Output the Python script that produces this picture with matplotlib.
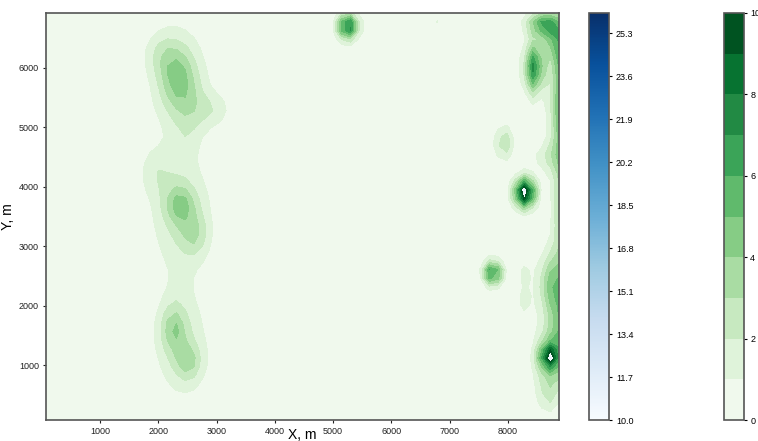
import numpy as np
import matplotlib
matplotlib.use("Agg")
import matplotlib.pyplot as plt
from matplotlib import cm, colors

plt.rcParams['font.family'] = ['Liberation Sans', 'DejaVu Sans']

# grid of the survey area, m
x_min, x_max, nx = 75, 8875, 60
y_min, y_max, ny = 75, 6925, 47

# anomalies: centre x, centre y, peak value, spread x, spread y
blob_x = [2330, 2350, 2050, 2600, 3000, 2470,
          2370, 2630, 2400, 1950, 2390,
          2260, 2520, 2400, 2270,
          5250, 6750, 8600, 8780, 8450,
          8875, 8875, 8700, 8875, 8780, 8875,
          8700, 8760, 8680,
          7930, 8290, 7740, 8280, 8280]
blob_y = [5850, 5800, 6250, 5300, 5300, 4750,
          3700, 3200, 3550, 4250, 2350,
          1620, 1050, 1350, 1600,
          6700, 6820, 6750, 6500, 6000,
          6300, 5300, 4500, 3600, 2350, 1700,
          1150, 1100, 450,
          4740, 3900, 2550, 2550, 2100]
blob_val = [2.2, 2.4, 1.3, 1.4, 1.3, 0.6,
            2.5, 1.8, 2.3, 1.3, 0.4,
            2.4, 2.2, 1.9, 0.5,
            8.5, 1.3, 5.5, 3.0, 7.5,
            3.0, 5.0, 1.8, 3.0, 4.6, 3.0,
            6.6, 4.5, 1.5,
            3.2, 11.5, 7.5, 1.3, 1.5]
blob_sx = [200, 330, 200, 220, 180, 150,
           170, 160, 350, 200, 100,
           150, 150, 330, 60,
           120, 90, 190, 150, 110,
           100, 100, 200, 90, 170, 100,
           100, 200, 120,
           100, 120, 110, 90, 90]
blob_sy = [330, 600, 250, 300, 200, 250,
           220, 250, 700, 300, 150,
           300, 220, 650, 80,
           150, 90, 140, 250, 300,
           400, 600, 180, 700, 380, 400,
           130, 380, 200,
           200, 170, 140, 130, 200]

green_levels = [0, 1, 2, 3, 4, 5, 6, 7, 8, 9, 10]
blue_ticks = [10.0, 11.7, 13.4, 15.1, 16.8, 18.5, 20.2, 21.9, 23.6, 25.3]
blue_max = 26.1

x = np.linspace(x_min, x_max, nx)
y = np.linspace(y_min, y_max, ny)
X, Y = np.meshgrid(x, y)
Z = np.zeros_like(X)
for cx, cy, v, sx, sy in zip(blob_x, blob_y, blob_val, blob_sx, blob_sy):
    Z += v * np.exp(-0.5 * (((X - cx) / sx) ** 2 + ((Y - cy) / sy) ** 2))

fig = plt.figure(figsize=(7.58, 4.41), dpi=100)
ax = fig.add_axes([46 / 758, 21 / 441, 513 / 758, 407 / 441])

cs = ax.contourf(X, Y, Z, levels=green_levels, cmap='Greens')
blue_norm = colors.Normalize(vmin=10, vmax=blue_max)
if Z.max() > 10:
    ax.contourf(X, Y, Z, levels=np.linspace(10, blue_max, 40), cmap='Blues', norm=blue_norm)

ax.set_xlim(x_min, x_max)
ax.set_ylim(y_min, y_max)
ax.set_xticks([1000, 2000, 3000, 4000, 5000, 6000, 7000, 8000])
ax.set_yticks([1000, 2000, 3000, 4000, 5000, 6000])
ax.tick_params(direction='out', length=2.5, width=0.8, labelsize=6.5, pad=2.5, colors='#222222')
for s in ax.spines.values():
    s.set_color('#555555')
    s.set_linewidth(1.2)
ax.set_xlabel('X, m', fontsize=10, labelpad=-6)
ax.set_ylabel('Y, m', fontsize=10, labelpad=3)

cax1 = fig.add_axes([589 / 758, 21 / 441, 20 / 758, 407 / 441])
cb1 = fig.colorbar(cm.ScalarMappable(norm=blue_norm, cmap='Blues'), cax=cax1, ticks=blue_ticks)
cb1.ax.set_yticklabels(['%.1f' % t for t in blue_ticks])
cb1.ax.tick_params(length=2.5, width=0.8, labelsize=6.5, pad=2.5)
cb1.outline.set_edgecolor('#555555')
cb1.outline.set_linewidth(1.2)

cax2 = fig.add_axes([724 / 758, 21 / 441, 20 / 758, 407 / 441])
cb2 = fig.colorbar(cs, cax=cax2, ticks=[0, 2, 4, 6, 8, 10])
cb2.ax.tick_params(length=2.5, width=0.8, labelsize=6.5, pad=2)
cb2.outline.set_edgecolor('#555555')
cb2.outline.set_linewidth(1.2)

fig.savefig('out.png', dpi=100)
